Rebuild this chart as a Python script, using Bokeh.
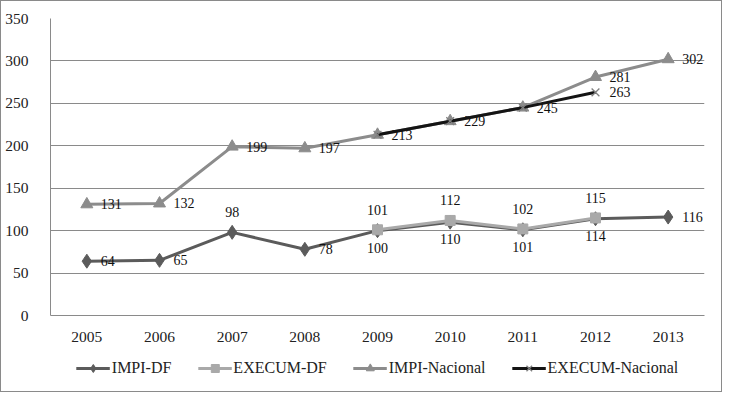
from bokeh.plotting import figure
from bokeh.layouts import column
from bokeh.models import ColumnDataSource, Legend, LegendItem, FixedTicker, Range1d
from bokeh.core.properties import value
from bokeh.embed import file_html
from bokeh.resources import INLINE
import math

years = ["2005", "2006", "2007", "2008", "2009", "2010", "2011", "2012", "2013"]
nan = float("nan")
impi_df = [64, 65, 98, 78, 100, 110, 101, 114, 116]
execum_df = [nan, nan, nan, nan, 101, 112, 102, 115, nan]
impi_nac = [131, 132, 199, 197, 213, 229, 245, 281, 302]
execum_nac = [nan, nan, nan, nan, 213, 229, 245, 263, nan]
y_ticks = [0, 50, 100, 150, 200, 250, 300, 350]

# label placement per point ("r" right, "a" above, "b" below, "" none)
impi_df_pos = ["r", "r", "a", "r", "b", "b", "b", "b", "r"]
execum_df_pos = ["", "", "", "", "a", "a", "a", "a", ""]
impi_nac_pos = ["r", "r", "r", "r", "r", "r", "r", "r", "r"]
execum_nac_pos = ["", "", "", "", "", "", "", "r", ""]

FONT = "Liberation Serif"
W = 720
H_MAIN, H_LEG = 344, 46

p = figure(x_range=years, y_range=Range1d(0, 350), width=W, height=H_MAIN,
           output_backend="svg", toolbar_location=None,
           min_border_left=49, min_border_right=17, min_border_top=17, min_border_bottom=30)
p.outline_line_color = None
p.xgrid.grid_line_color = None
p.ygrid.grid_line_color = "#8a8a8a"
p.ygrid.grid_line_width = 1
p.yaxis.ticker = FixedTicker(ticks=y_ticks)
for ax in (p.xaxis[0], p.yaxis[0]):
    ax.axis_line_color = "#8a8a8a"
    ax.major_tick_line_color = None
    ax.minor_tick_line_color = None
    ax.major_label_text_font = FONT
    ax.major_label_text_font_size = "15.5px"
    ax.major_label_text_color = "#222222"
p.xaxis.major_label_standoff = 10
p.yaxis.major_label_standoff = 16

# legend holder figure
lf = figure(width=W, height=H_LEG, output_backend="svg", toolbar_location=None,
            x_axis_type=None, y_axis_type=None, x_range=(0, 1), y_range=(0, 1),
            min_border=0)
lf.outline_line_color = None
lf.grid.grid_line_color = None

series = [
    ("IMPI-DF", impi_df, impi_df_pos, "#5b5b5b", "diamond", 14, "#5b5b5b"),
    ("EXECUM-DF", execum_df, execum_df_pos, "#a9a9a9", "square", 10, "#a9a9a9"),
    ("IMPI-Nacional", impi_nac, impi_nac_pos, "#8c8c8c", "triangle", 12, "#8c8c8c"),
    ("EXECUM-Nacional", execum_nac, execum_nac_pos, "#141414", "x", 11, "#808080"),
]

items = []
for name, vals, pos, color, marker, msize, mcolor in series:
    src = ColumnDataSource(dict(x=years, y=vals))
    empty = ColumnDataSource(dict(x=[nan], y=[nan]))
    rr = []
    for fig, s in ((p, src), (lf, empty)):
        r1 = fig.line("x", "y", source=s, line_color=color, line_width=3)
        if marker == "x":
            r2 = fig.scatter("x", "y", source=s, marker=marker, size=msize,
                             line_color=mcolor, line_width=1.3)
        else:
            r2 = fig.scatter("x", "y", source=s, marker=marker, size=msize,
                             fill_color=mcolor, line_color=mcolor)
        rr.append((r1, r2))
    items.append(LegendItem(label=name, renderers=list(rr[1])))

    lx, ly, lt, dx, dy, al = [], [], [], [], [], []
    for yr, v, ps in zip(years, vals, pos):
        if ps == "" or (isinstance(v, float) and math.isnan(v)):
            continue
        lx.append(yr); ly.append(v); lt.append(str(int(v)))
        if ps == "r":
            dx.append(14); dy.append(0); al.append("left")
        elif ps == "a":
            dx.append(0); dy.append(-20); al.append("center")
        else:
            dx.append(0); dy.append(17); al.append("center")
    lsrc = ColumnDataSource(dict(x=lx, y=ly, t=lt, dx=dx, dy=dy, al=al))
    p.text("x", "y", text="t", source=lsrc, x_offset="dx", y_offset="dy",
           text_align="al", text_baseline="middle",
           text_font=value(FONT), text_font_size="14px", text_color="#111111")

legend = Legend(items=items, orientation="horizontal", location="center",
                label_text_font=FONT, label_text_font_size="16px",
                label_text_color="#222222", glyph_width=34, spacing=26,
                label_standoff=2, border_line_color=None, background_fill_alpha=0,
                margin=0, padding=4)
lf.add_layout(legend, "center")

layout = column(p, lf, spacing=0, styles={"border": "1px solid #8a8a8a"})

open("out.html", "w").write(file_html(layout, INLINE))
